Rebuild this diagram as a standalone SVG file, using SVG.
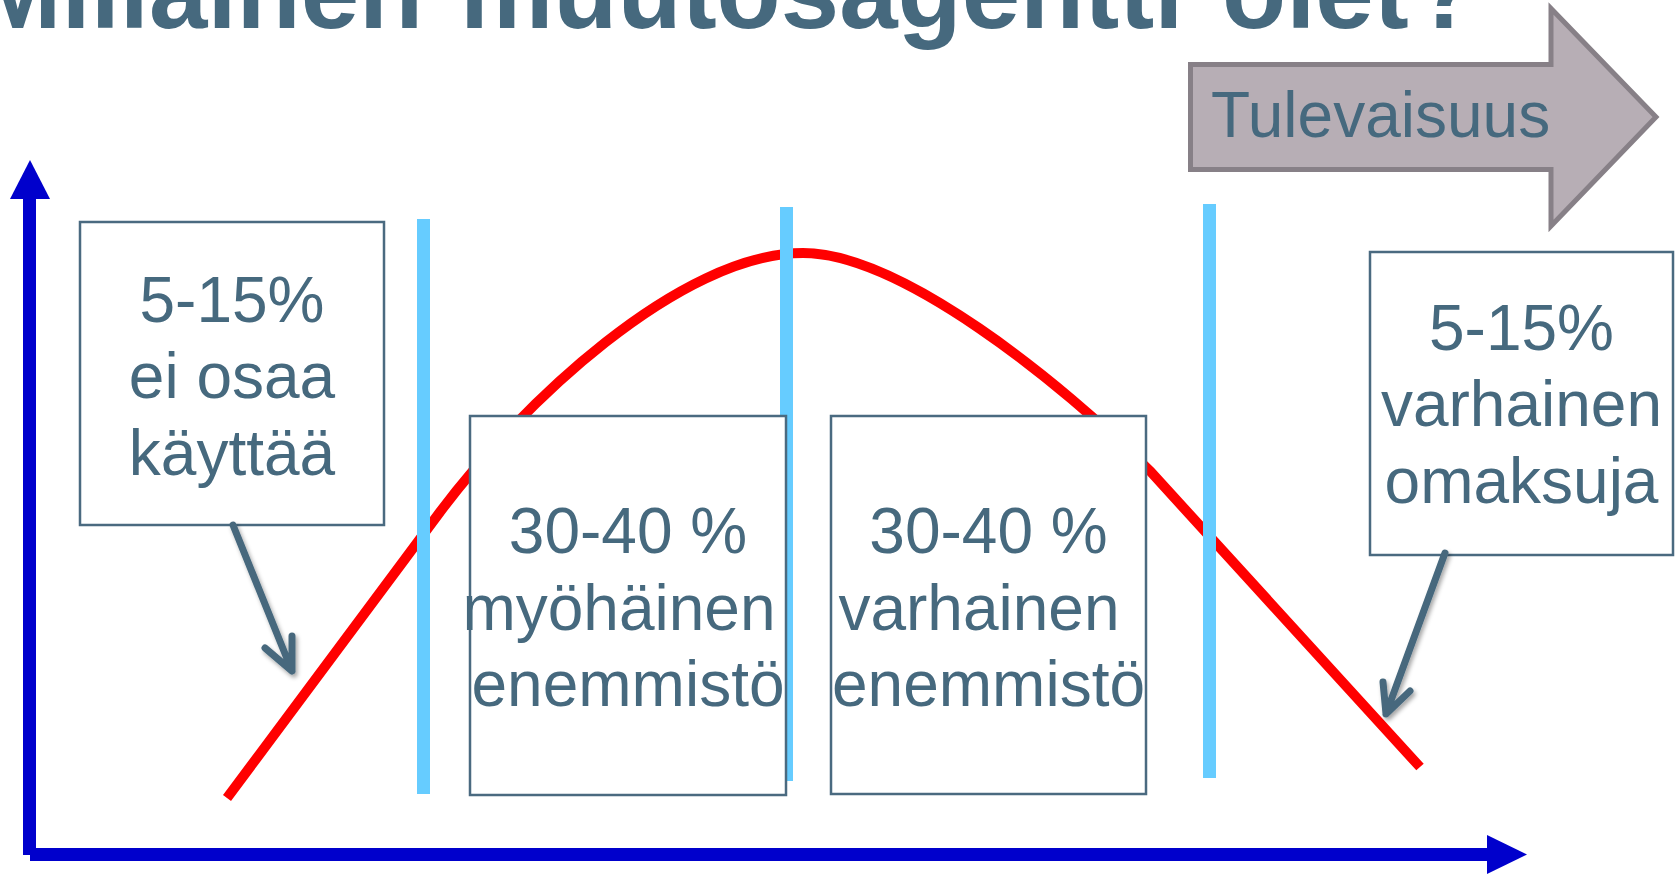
<svg xmlns="http://www.w3.org/2000/svg" width="1675" height="875" viewBox="0 0 1675 875">
<defs>
<style>
.t{font-family:"Liberation Sans",Arial,sans-serif;fill:#46697E}
.lbl{font-size:64px;text-anchor:middle}
.box{fill:#FFFFFF;stroke:#4A6A80;stroke-width:2.5}
.vl{stroke:#66CCFF;stroke-width:13}
.axis{fill:#0000CC}
.conn{fill:none;stroke:#46687D;stroke-width:7;stroke-linecap:round;stroke-linejoin:round}
</style>
<filter id="sh" x="-30%" y="-30%" width="160%" height="160%">
<feDropShadow dx="2" dy="3" stdDeviation="2" flood-color="#000" flood-opacity="0.35"/>
</filter>
</defs>
<rect width="1675" height="875" fill="#FFFFFF"/>
<text class="t" y="28" font-size="105" font-weight="bold"><tspan x="-26">Millainen</tspan> <tspan x="460">muutosagentti</tspan> <tspan x="1222">olet</tspan> <tspan x="1414">?</tspan></text>
<g id="future-arrow">
<path d="M1190.5 64.5 H1551 V8.5 L1656 117 L1551 226 V169.5 H1190.5 Z" fill="#B7AEB5" stroke="#878087" stroke-width="5"/>
<text class="t" x="1211" y="137" font-size="64">Tulevaisuus</text>
</g>
<g id="axes">
<rect class="axis" x="23" y="197" width="13" height="658"/>
<polygon class="axis" points="30,160 50,199 10,199"/>
<rect class="axis" x="30" y="848" width="1458" height="13"/>
<polygon class="axis" points="1487,835 1527,854.5 1487,874"/>
</g>
<g id="curve">
<path d="M227 798 L440 512 C520 405 680 253 803 253 C900 253 1060 381 1150 471 L1420 767" fill="none" stroke="#FF0000" stroke-width="10"/>
</g>
<g id="dividers">
<line class="vl" x1="423.5" y1="219" x2="423.5" y2="794"/>
<line class="vl" x1="786.5" y1="207" x2="786.5" y2="781"/>
<line class="vl" x1="1209.5" y1="204" x2="1209.5" y2="778"/>
</g>
<g id="box-laggards">
<rect class="box" x="80" y="222" width="304" height="303"/>
<text class="t lbl" x="232" y="322">5-15%</text>
<text class="t lbl" x="232" y="398">ei osaa</text>
<text class="t lbl" x="232" y="475">käyttää</text>
</g>
<g id="box-late-majority">
<rect class="box" x="470" y="416" width="316" height="379"/>
<text class="t lbl" x="628" y="553">30-40 %</text>
<text class="t lbl" x="619" y="630">myöhäinen</text>
<text class="t lbl" x="628" y="706">enemmistö</text>
</g>
<g id="box-early-majority">
<rect class="box" x="831" y="416" width="315" height="378"/>
<text class="t lbl" x="988.5" y="553">30-40 %</text>
<text class="t lbl" x="979" y="630">varhainen</text>
<text class="t lbl" x="988.5" y="706">enemmistö</text>
</g>
<g id="box-early-adopters">
<rect class="box" x="1370" y="252" width="303" height="303"/>
<text class="t lbl" x="1521.5" y="350">5-15%</text>
<text class="t lbl" x="1521.5" y="426">varhainen</text>
<text class="t lbl" x="1521.5" y="503">omaksuja</text>
</g>
<g id="connectors" filter="url(#sh)">
<path class="conn" d="M233 525 L292 671 M265 648 L292 671 L292 636"/>
<path class="conn" d="M1445 553 L1386 714 M1383 682 L1386 714 L1410 691"/>
</g>
</svg>
